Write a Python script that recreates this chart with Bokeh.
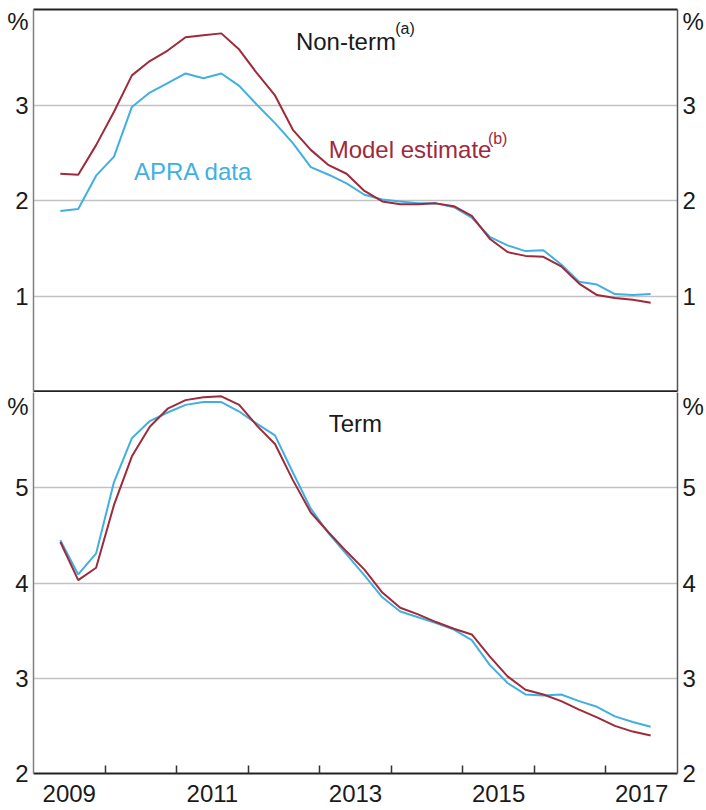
from bokeh.plotting import figure
from bokeh.models import (FixedTicker, CustomJSTickFormatter, LinearAxis, Range1d,
                          Label, Grid, ColumnDataSource)
from bokeh.layouts import column
from bokeh.embed import file_html
from bokeh.resources import INLINE

# ---------------- data ----------------
quarters = ["2009Q2", "2009Q3", "2009Q4",
            "2010Q1", "2010Q2", "2010Q3", "2010Q4",
            "2011Q1", "2011Q2", "2011Q3", "2011Q4",
            "2012Q1", "2012Q2", "2012Q3", "2012Q4",
            "2013Q1", "2013Q2", "2013Q3", "2013Q4",
            "2014Q1", "2014Q2", "2014Q3", "2014Q4",
            "2015Q1", "2015Q2", "2015Q3", "2015Q4",
            "2016Q1", "2016Q2", "2016Q3", "2016Q4",
            "2017Q1", "2017Q2", "2017Q3"]

nonterm_model = [2.28, 2.27, 2.58, 2.93, 3.31, 3.46, 3.57, 3.71, 3.73, 3.75, 3.58, 3.33,
                 3.10, 2.74, 2.53, 2.37, 2.28, 2.10, 1.99, 1.96, 1.96, 1.97,
                 1.94, 1.84, 1.60, 1.46, 1.42, 1.41, 1.31, 1.13, 1.01, 0.98, 0.96, 0.93]
nonterm_apra = [1.89, 1.91, 2.26, 2.46, 2.98, 3.13, 3.23, 3.33, 3.28, 3.33, 3.20, 3.00,
                2.81, 2.60, 2.35, 2.27, 2.18, 2.06, 2.01, 1.99, 1.97, 1.97,
                1.93, 1.82, 1.62, 1.53, 1.47, 1.48, 1.33, 1.15, 1.12, 1.02, 1.01, 1.02]
term_model = [4.43, 4.03, 4.16, 4.82, 5.33, 5.64, 5.83, 5.92, 5.95, 5.96, 5.87, 5.65,
              5.46, 5.08, 4.74, 4.53, 4.33, 4.14, 3.90, 3.74, 3.67, 3.59,
              3.52, 3.46, 3.23, 3.02, 2.88, 2.83, 2.76, 2.67, 2.59, 2.50, 2.44, 2.40]
term_apra = [4.45, 4.09, 4.31, 5.06, 5.52, 5.70, 5.79, 5.87, 5.90, 5.90, 5.80, 5.67,
             5.55, 5.16, 4.78, 4.52, 4.30, 4.08, 3.85, 3.70, 3.64, 3.58,
             3.51, 3.40, 3.14, 2.95, 2.83, 2.82, 2.83, 2.76, 2.70, 2.60, 2.54, 2.49]

year_ticks = [2009.5, 2011.5, 2013.5, 2015.5, 2017.5]
year_labels = ["2009", "2011", "2013", "2015", "2017"]
year_bounds = [2010, 2011, 2012, 2013, 2014, 2015, 2016, 2017]

top_ticks = [1, 2, 3, 3.87]
top_labels = ["1", "2", "3", "%"]
top_grid = [1, 2, 3]
bot_ticks = [2, 3, 4, 5, 5.89]
bot_labels = ["2", "3", "4", "5", "%"]
bot_grid = [3, 4, 5]

# ---------------- styling ----------------
RED = "#9e2a3b"
BLUE = "#41b0e1"
TXT = "#1a1a1a"
FONT = "Liberation Sans"
W = 706
TICK_FS = "24px"


def qpos(q):
    return int(q[:4]) + (int(q[5]) - 0.5) / 4.0


xs = [qpos(q) for q in quarters]


def fmt(ticks, labels):
    return CustomJSTickFormatter(args=dict(t=ticks, l=labels),
                                 code="const i = t.indexOf(tick); return i >= 0 ? l[i] : '';")


def yaxis(ticks, labels, line_color):
    return LinearAxis(ticker=FixedTicker(ticks=ticks), formatter=fmt(ticks, labels),
                      major_tick_in=0, major_tick_out=0, minor_tick_in=0, minor_tick_out=0,
                      axis_line_color=line_color, axis_line_width=1.5,
                      major_label_text_font=FONT, major_label_text_font_size=TICK_FS,
                      major_label_text_color=TXT, major_label_standoff=5)


def line_axis(width):
    return LinearAxis(ticker=FixedTicker(ticks=[]), major_tick_in=0, major_tick_out=0,
                      minor_tick_in=0, minor_tick_out=0, major_label_text_font_size="0px",
                      major_label_standoff=0, axis_line_color="#222222", axis_line_width=width)


def make_fig(h, y0, y1, bt, bb, ticks, labels, grid):
    p = figure(width=W, height=h, x_range=Range1d(2009, 2018), y_range=Range1d(y0, y1),
               output_backend="svg", toolbar_location=None,
               x_axis_location=None, y_axis_location=None,
               min_border_left=33, min_border_right=25,
               min_border_top=bt, min_border_bottom=bb)
    p.outline_line_color = None
    p.background_fill_color = "white"
    p.border_fill_color = "white"
    # drop any default grids, then add our own
    p.center = [r for r in p.center if not isinstance(r, Grid)]
    p.add_layout(Grid(dimension=1, ticker=FixedTicker(ticks=grid),
                      grid_line_color="#c2c2c2", grid_line_width=1.5))
    p.add_layout(yaxis(ticks, labels, "#808080"), "left")
    p.add_layout(yaxis(ticks, labels, "#555555"), "right")
    return p


# ---------------- top panel ----------------
top = make_fig(392, 0, 4, 9, 1, top_ticks, top_labels, top_grid)
top.add_layout(line_axis(2), "above")
top.add_layout(line_axis(2.5), "below")
src_top = ColumnDataSource(dict(x=xs, model=nonterm_model, apra=nonterm_apra))
top.line("x", "apra", source=src_top, line_color=BLUE, line_width=2)
top.line("x", "model", source=src_top, line_color=RED, line_width=2)

top.add_layout(Label(x=2012.667, y=3.669, text="Non-term", text_font=FONT, text_font_size="24px",
                     text_color=TXT, text_baseline="alphabetic", text_align="left"))
top.add_layout(Label(x=2014.056, y=3.80, text="(a)", text_font=FONT, text_font_size="16px",
                     text_color=TXT, text_baseline="alphabetic", text_align="left"))
top.add_layout(Label(x=2010.403, y=2.301, text="APRA data", text_font=FONT, text_font_size="24px",
                     text_color=BLUE, text_baseline="alphabetic", text_align="left"))
top.add_layout(Label(x=2013.125, y=2.535, text="Model estimate", text_font=FONT, text_font_size="24px",
                     text_color=RED, text_baseline="alphabetic", text_align="left"))
top.add_layout(Label(x=2015.35, y=2.65, text="(b)", text_font=FONT, text_font_size="16px",
                     text_color=RED, text_baseline="alphabetic", text_align="left"))

# ---------------- bottom panel ----------------
bot = make_fig(418, 2, 6, 0, 37, bot_ticks, bot_labels, bot_grid)
xax = LinearAxis(ticker=FixedTicker(ticks=year_ticks, minor_ticks=year_bounds),
                 formatter=fmt(year_ticks, year_labels),
                 major_tick_in=0, major_tick_out=0, minor_tick_in=8, minor_tick_out=0,
                 minor_tick_line_color="#333333", minor_tick_line_width=1.5,
                 axis_line_color="#222222", axis_line_width=2,
                 major_label_text_font=FONT, major_label_text_font_size=TICK_FS,
                 major_label_text_color=TXT, major_label_standoff=11)
bot.add_layout(xax, "below")
src_bot = ColumnDataSource(dict(x=xs, model=term_model, apra=term_apra))
bot.line("x", "apra", source=src_bot, line_color=BLUE, line_width=2)
bot.line("x", "model", source=src_bot, line_color=RED, line_width=2)
bot.add_layout(Label(x=2013.125, y=5.675, text="Term", text_font=FONT, text_font_size="24px",
                     text_color=TXT, text_baseline="alphabetic", text_align="left"))

layout = column(top, bot, spacing=0)
open("out.html", "w").write(file_html(layout, INLINE))
